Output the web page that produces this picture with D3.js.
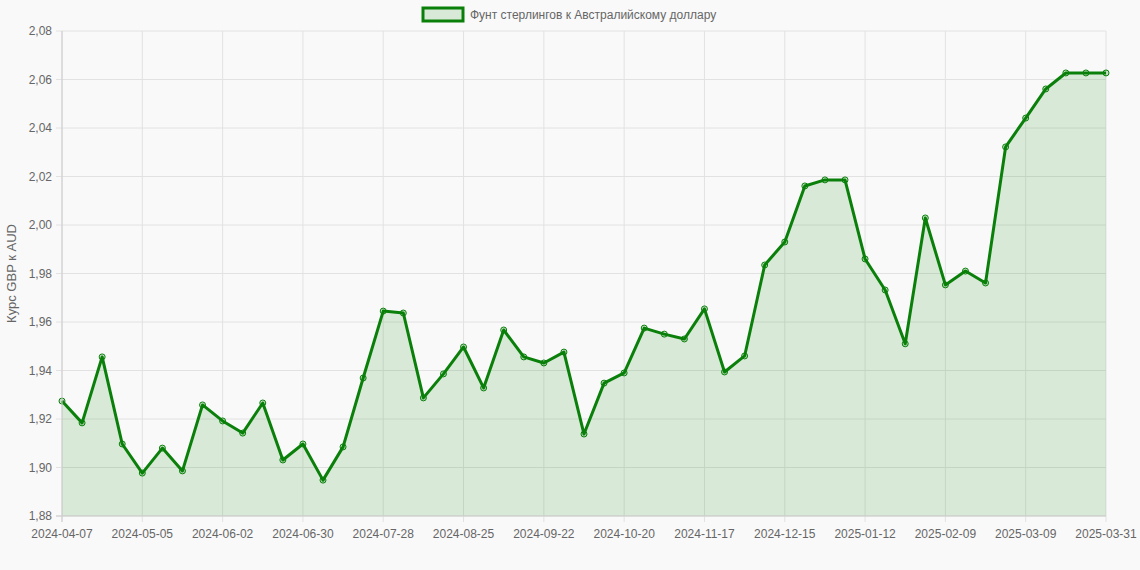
<!DOCTYPE html>
<html><head><meta charset="utf-8">
<script src="https://cdn.jsdelivr.net/npm/d3@7"></script>
<style>body{margin:0;background:#f9f9f9;font-family:"Liberation Sans",Arial,sans-serif}</style>
</head><body><svg id="chart" width="1140" height="570"></svg>
<script>
var dates = ["2024-04-07","2024-04-14","2024-04-21","2024-04-28","2024-05-05","2024-05-12","2024-05-19","2024-05-26",
  "2024-06-02","2024-06-09","2024-06-16","2024-06-23","2024-06-30","2024-07-07","2024-07-14","2024-07-21",
  "2024-07-28","2024-08-04","2024-08-11","2024-08-18","2024-08-25","2024-09-01","2024-09-08","2024-09-15",
  "2024-09-22","2024-09-29","2024-10-06","2024-10-13","2024-10-20","2024-10-27","2024-11-03","2024-11-10",
  "2024-11-17","2024-11-24","2024-12-01","2024-12-08","2024-12-15","2024-12-22","2024-12-29","2025-01-05",
  "2025-01-12","2025-01-19","2025-01-26","2025-02-02","2025-02-09","2025-02-16","2025-02-23","2025-03-02",
  "2025-03-09","2025-03-16","2025-03-23","2025-03-31"];
// weekly rate; last label is 03-31 in the source, one more point before it
dates.splice(51, 0, "2025-03-23b");
dates[51] = "2025-03-23"; dates[50] = "2025-03-16"; dates[49] = "2025-03-09b";
var rates = [1.9274,1.9184,1.9456,1.9097,1.8977,1.908,1.8986,1.9258,1.9192,1.9142,1.9266,1.9031,1.9097,1.8948,
  1.9085,1.9369,1.9645,1.9637,1.9287,1.9386,1.9497,1.9328,1.9567,1.9456,1.9431,1.9476,1.9138,1.9348,1.939,
  1.9575,1.955,1.953,1.9654,1.9394,1.946,1.9835,1.993,2.0161,2.0186,2.0186,1.986,1.9732,1.951,2.0029,1.9753,
  1.981,1.9761,2.0322,2.0441,2.0561,2.0627,2.0627,2.0627];
var yTicks = [1.88,1.90,1.92,1.94,1.96,1.98,2.00,2.02,2.04,2.06,2.08];
var seriesName = "Фунт стерлингов к Австралийскому доллару";
var yTitle = "Курс GBP к AUD";

var margin = {left: 62, right: 34, top: 31, bottom: 54};
var width = 1140, height = 570;
var svg = d3.select("#chart");
var idx = d3.range(rates.length);
var x = d3.scaleLinear().domain([0, rates.length - 1]).range([margin.left, width - margin.right]);
var y = d3.scaleLinear().domain([1.88, 2.08]).range([height - margin.bottom, margin.top]);
var fmt = function (v) { return d3.format(".2f")(v).replace(".", ","); };
var labelAt = function (i) { return i === rates.length - 1 ? "2025-03-31" : dates[i].slice(0, 10); };
var tickIdx = idx.filter(function (i) { return i % 4 === 0 || i === rates.length - 1; });

// grid
svg.append("g").selectAll("line").data(yTicks).join("line")
  .attr("x1", margin.left - 6).attr("x2", width - margin.right)
  .attr("y1", function (d) { return y(d); }).attr("y2", function (d) { return y(d); })
  .attr("stroke", "#e2e2e2");
svg.append("g").selectAll("line").data(tickIdx).join("line")
  .attr("x1", function (d) { return x(d); }).attr("x2", function (d) { return x(d); })
  .attr("y1", margin.top).attr("y2", height - margin.bottom + 6)
  .attr("stroke", "#e2e2e2");

svg.append("g").selectAll("text").data(yTicks).join("text")
  .attr("x", margin.left - 10).attr("y", function (d) { return y(d) + 4; })
  .attr("text-anchor", "end").attr("font-size", 12).attr("fill", "#666").text(fmt);
svg.append("g").selectAll("text").data(tickIdx).join("text")
  .attr("x", function (d) { return x(d); }).attr("y", height - margin.bottom + 22)
  .attr("text-anchor", "middle").attr("font-size", 12).attr("fill", "#666").text(labelAt);

svg.append("text").attr("transform", "translate(16," + (margin.top + (height - margin.top - margin.bottom) / 2) + ") rotate(-90)")
  .attr("text-anchor", "middle").attr("font-size", 13).attr("fill", "#666").text(yTitle);

// area + line
svg.append("path").datum(idx)
  .attr("d", d3.area().x(function (i) { return x(i); }).y0(y(1.88)).y1(function (i) { return y(rates[i]); }))
  .attr("fill", "rgba(0,128,0,0.13)");
svg.append("path").datum(idx)
  .attr("d", d3.line().x(function (i) { return x(i); }).y(function (i) { return y(rates[i]); }))
  .attr("fill", "none").attr("stroke", "#0a800a").attr("stroke-width", 3).attr("stroke-linejoin", "round");
svg.append("g").selectAll("circle").data(idx).join("circle")
  .attr("cx", function (i) { return x(i); }).attr("cy", function (i) { return y(rates[i]); })
  .attr("r", 3).attr("fill", "rgba(0,128,0,0.2)").attr("stroke", "#0a800a").attr("stroke-width", 1);

// axis border lines
svg.append("line").attr("x1", margin.left).attr("x2", margin.left).attr("y1", margin.top).attr("y2", height - margin.bottom + 6).attr("stroke", "#ccc");
svg.append("line").attr("x1", margin.left - 6).attr("x2", width - margin.right).attr("y1", y(1.88)).attr("y2", y(1.88)).attr("stroke", "#ccc");

// legend
var lg = svg.append("g").attr("transform", "translate(423,8)");
lg.append("rect").attr("width", 40).attr("height", 13).attr("fill", "rgba(0,128,0,0.13)").attr("stroke", "#0a800a").attr("stroke-width", 3);
lg.append("text").attr("x", 47).attr("y", 11).attr("font-size", 12).attr("fill", "#666").text(seriesName);
</script></body></html>
